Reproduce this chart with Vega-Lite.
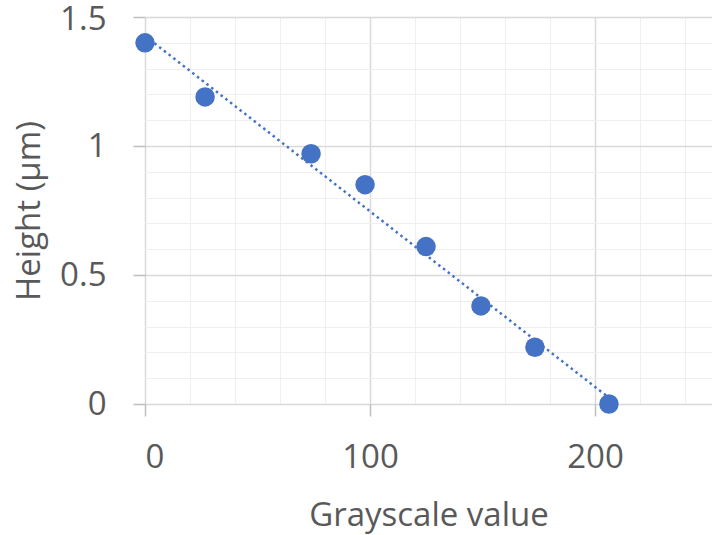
{
  "$schema": "https://vega.github.io/schema/vega-lite/v6.json",
  "width": 567,
  "height": 387,
  "autosize": {"type": "none"},
  "padding": {"left": 145, "top": 17, "right": 0, "bottom": 131},
  "background": "white",
  "config": {
    "view": {"stroke": null},
    "axis": {
      "labelFont": "Open Sans",
      "titleFont": "Open Sans",
      "labelFontSize": 33,
      "titleFontSize": 33,
      "titleFontWeight": "normal",
      "labelColor": "#595959",
      "titleColor": "#595959",
      "domain": false,
      "tickColor": "#bfbfbf",
      "tickSize": 12,
      "tickWidth": 1.5
    }
  },
  "data": {
    "values": [
      {"gray": 0, "height": 1.40},
      {"gray": 26.7, "height": 1.19},
      {"gray": 73.8, "height": 0.97},
      {"gray": 97.8, "height": 0.85},
      {"gray": 124.9, "height": 0.61},
      {"gray": 149.3, "height": 0.38},
      {"gray": 173.3, "height": 0.22},
      {"gray": 206.2, "height": 0.0}
    ]
  },
  "encoding": {
    "x": {
      "field": "gray",
      "type": "quantitative",
      "scale": {"domain": [0, 252], "nice": false},
      "axis": {
        "values": [0, 20, 40, 60, 80, 100, 120, 140, 160, 180, 200, 220, 240],
        "labelExpr": "datum.value % 100 === 0 ? format(datum.value, 'd') : ''",
        "gridColor": {"condition": {"test": "datum.value % 100 === 0", "value": "#d9d9d9"}, "value": "#efefef"},
        "gridWidth": {"condition": {"test": "datum.value % 100 === 0", "value": 1.5}, "value": 1},
        "tickOpacity": {"condition": {"test": "datum.value % 100 === 0", "value": 1}, "value": 0},
        "labelPadding": 25,
        "title": "Grayscale value",
        "titlePadding": 25
      }
    },
    "y": {
      "field": "height",
      "type": "quantitative",
      "scale": {"domain": [0, 1.5], "nice": false},
      "axis": {
        "values": [0, 0.1, 0.2, 0.3, 0.4, 0.5, 0.6, 0.7, 0.8, 0.9, 1, 1.1, 1.2, 1.3, 1.4, 1.5],
        "labelExpr": "abs(datum.value * 2 - round(datum.value * 2)) < 0.001 ? format(datum.value, '~g') : ''",
        "labelOffset": {"condition": {"test": "datum.value > 1.45", "value": 2}, "value": 0},
        "gridColor": {"condition": {"test": "abs(datum.value * 2 - round(datum.value * 2)) < 0.001", "value": "#d9d9d9"}, "value": "#efefef"},
        "gridWidth": {"condition": {"test": "abs(datum.value * 2 - round(datum.value * 2)) < 0.001", "value": 1.5}, "value": 1},
        "tickOpacity": {"condition": {"test": "abs(datum.value * 2 - round(datum.value * 2)) < 0.001", "value": 1}, "value": 0},
        "labelPadding": 27,
        "title": "Height (µm)",
        "titlePadding": 13
      }
    }
  },
  "layer": [
    {
      "transform": [{"regression": "height", "on": "gray"}],
      "mark": {"type": "line", "color": "#4472C4", "strokeWidth": 2.5, "strokeDash": [2.5, 3.5]}
    },
    {
      "mark": {"type": "circle", "size": 380, "opacity": 1, "color": "#4472C4"}
    }
  ]
}
